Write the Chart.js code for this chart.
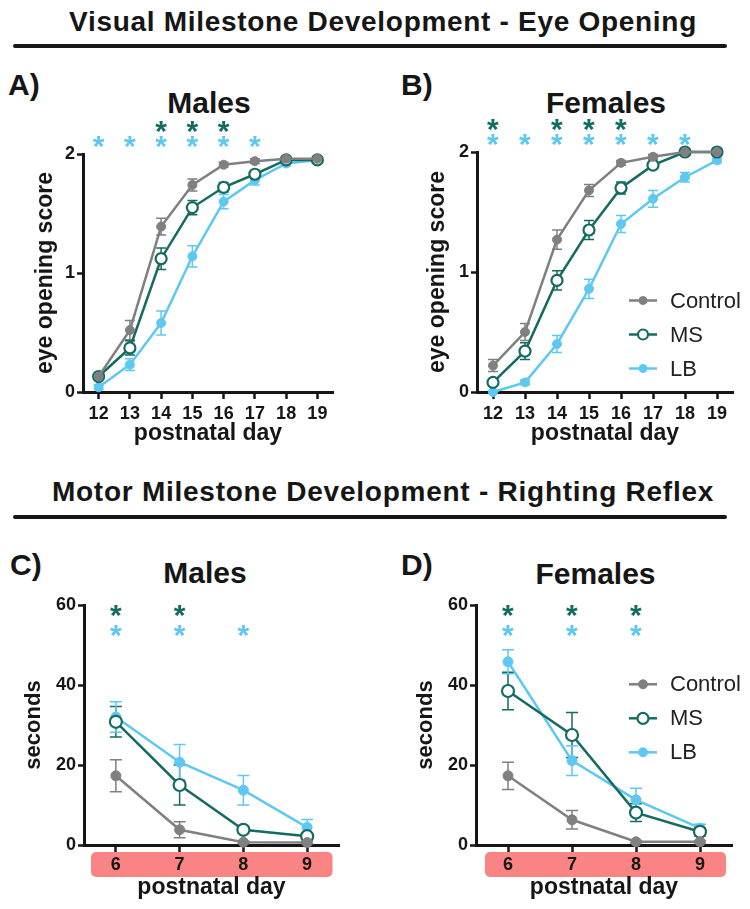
<!DOCTYPE html>
<html><head><meta charset="utf-8">
<script src="https://cdn.jsdelivr.net/npm/chart.js@4.4.0/dist/chart.umd.min.js"></script>
<style>
html,body{margin:0;padding:0;background:#fff;}
#page{position:relative;width:750px;height:909px;overflow:hidden;font-family:"Liberation Sans",Arial,Helvetica,sans-serif;color:#161616;}
.t{position:absolute;white-space:nowrap;line-height:1;font-weight:bold;}
.c{transform:translateX(-50%);}
.rule{position:absolute;height:4px;background:#161616;border-radius:2px;}
canvas{position:absolute;}
</style></head><body>
<div id="page">
  <div class="t c" style="left:383px;top:8px;font-size:28px;letter-spacing:0.7px;">Visual Milestone Development - Eye Opening</div>
  <div class="rule" style="left:13px;top:43.7px;width:714px;"></div>
  <div class="t" style="left:8px;top:69.6px;font-size:30px;">A)</div>
  <div class="t" style="left:401px;top:69.6px;font-size:30px;">B)</div>
  <div class="t c" style="left:209px;top:87.9px;font-size:30px;">Males</div>
  <div class="t c" style="left:606px;top:87.9px;font-size:30px;">Females</div>

  <div class="t c" style="left:383px;top:478px;font-size:28px;letter-spacing:0.75px;">Motor Milestone Development - Righting Reflex</div>
  <div class="rule" style="left:13px;top:514.5px;width:714px;"></div>
  <div class="t" style="left:10px;top:549.6px;font-size:30px;">C)</div>
  <div class="t" style="left:401px;top:549.6px;font-size:30px;">D)</div>
  <div class="t c" style="left:205px;top:557.9px;font-size:30px;">Males</div>
  <div class="t c" style="left:595.5px;top:558.6px;font-size:30px;">Females</div>

  <canvas id="cA"></canvas>
  <canvas id="cB"></canvas>
  <canvas id="cC"></canvas>
  <canvas id="cD"></canvas>
</div>
<script>
// ---------------- DATA ----------------
const daysEye = ['12','13','14','15','16','17','18','19'];
const daysRight = ['6','7','8','9'];

// Panel A - males, eye opening score
const eyeMaleControl    = [0.13,0.52,1.39,1.74,1.91,1.94,1.96,1.96];
const eyeMaleControlErr = [0.02,0.08,0.07,0.05,0.02,0.02,0.01,0.01];
const eyeMaleMS         = [0.13,0.37,1.12,1.55,1.72,1.83,1.95,1.95];
const eyeMaleMSErr      = [0.02,0.06,0.09,0.06,0.04,0.03,0.02,0.02];
const eyeMaleLB         = [0.04,0.23,0.58,1.14,1.60,1.78,1.92,1.95];
const eyeMaleLBErr      = [0.02,0.05,0.10,0.09,0.06,0.04,0.02,0.01];
const eyeMaleSigMS      = ['14','15','16'];
const eyeMaleSigLB      = ['12','13','14','15','16','17'];

// Panel B - females, eye opening score
const eyeFemaleControl    = [0.22,0.50,1.27,1.68,1.91,1.96,2.00,2.00];
const eyeFemaleControlErr = [0.05,0.07,0.08,0.05,0.02,0.02,0,0];
const eyeFemaleMS         = [0.08,0.34,0.93,1.35,1.70,1.89,2.00,2.00];
const eyeFemaleMSErr      = [0.03,0.07,0.08,0.08,0.05,0.03,0,0];
const eyeFemaleLB         = [0.00,0.08,0.40,0.86,1.40,1.61,1.79,1.93];
const eyeFemaleLBErr      = [0,0.02,0.07,0.08,0.07,0.07,0.04,0.02];
const eyeFemaleSigMS      = ['12','14','15','16'];
const eyeFemaleSigLB      = ['12','13','14','15','16','17','18'];

// Panel C - males, righting reflex (seconds)
const rightMaleControl    = [17.3,3.8,0.7,0.6];
const rightMaleControlErr = [4.0,2.0,0.3,0.3];
const rightMaleMS         = [30.8,15.0,3.8,2.2];
const rightMaleMSErr      = [3.8,5.0,0.8,0.8];
const rightMaleLB         = [32.0,20.7,13.7,4.4];
const rightMaleLBErr      = [3.8,4.4,3.7,2.0];
const rightMaleSigMS      = ['6','7'];
const rightMaleSigLB      = ['6','7','8'];

// Panel D - females, righting reflex (seconds)
const rightFemaleControl    = [17.3,6.3,0.8,0.8];
const rightFemaleControlErr = [3.4,2.3,0.3,0.3];
const rightFemaleMS         = [38.5,27.5,8.1,3.3];
const rightFemaleMSErr      = [4.7,5.6,2.2,1.0];
const rightFemaleLB         = [45.8,21.1,11.3,4.2];
const rightFemaleLBErr      = [3.0,3.7,2.9,1.0];
const rightFemaleSigMS      = ['6','7','8'];
const rightFemaleSigLB      = ['6','7','8'];

// ---------------- STYLE ----------------
const FONT = '"Liberation Sans", Arial, Helvetica, sans-serif';
const INK = '#161616';
const C_CTRL = '#808080';
const C_MS = '#166b61';
const C_LB = '#5fc8f0';
Chart.defaults.font.family = FONT;

const extrasPlugin = {
  id: 'extras',
  beforeDraw(chart, args, o) {
    if (!o.band) return;
    const ca = chart.chartArea, ctx = chart.ctx;
    const x0 = ca.left + o.band.dl, x1 = ca.right - o.band.dr;
    const y0 = ca.bottom + o.band.dt, y1 = ca.bottom + o.band.db;
    ctx.save();
    ctx.fillStyle = o.band.color;
    ctx.beginPath();
    ctx.roundRect(x0, y0, x1 - x0, y1 - y0, 5);
    ctx.fill();
    ctx.restore();
  },
  beforeDatasetsDraw(chart, args, o) {
    const ctx = chart.ctx, xs = chart.scales.x, ys = chart.scales.y;
    ctx.save();
    chart.data.datasets.forEach((ds, i) => {
      const err = o.errors[i];
      if (!err) return;
      ctx.strokeStyle = ds.borderColor;
      ctx.lineWidth = o.errWidth;
      ds.data.forEach((v, j) => {
        const e = err[j];
        if (!e) return;
        const x = xs.getPixelForValue(j);
        const yt = ys.getPixelForValue(v + e), yb = ys.getPixelForValue(v - e);
        ctx.beginPath();
        ctx.moveTo(x, yt); ctx.lineTo(x, yb);
        ctx.moveTo(x - o.cap, yt); ctx.lineTo(x + o.cap, yt);
        ctx.moveTo(x - o.cap, yb); ctx.lineTo(x + o.cap, yb);
        ctx.stroke();
      });
    });
    ctx.restore();
  },
  afterDatasetsDraw(chart, args, o) {
    const ctx = chart.ctx, xs = chart.scales.x, ca = chart.chartArea;
    const labels = chart.data.labels;
    ctx.save();
    ctx.font = 'bold ' + o.starSize + 'px ' + FONT;
    ctx.textAlign = 'left';
    ctx.textBaseline = 'alphabetic';
    const m = ctx.measureText('*');
    const asc = m.actualBoundingBoxAscent, desc = m.actualBoundingBoxDescent;
    const bl = m.actualBoundingBoxLeft, br = m.actualBoundingBoxRight;
    o.stars.forEach(row => {
      ctx.fillStyle = row.color;
      row.days.forEach(d => {
        const cx = xs.getPixelForValue(labels.indexOf(d));
        const cy = ca.top + row.dy;
        const x = cx - (br - bl) / 2;
        const y = cy + (asc - desc) / 2;
        ctx.fillText('*', x, y);
      });
    });
    if (o.legend) {
      const L = o.legend;
      chart.data.datasets.forEach((ds, i) => {
        const x = ca.left + L.dx, y = ca.top + L.dy + i * L.gap;
        ctx.strokeStyle = ds.borderColor;
        ctx.lineWidth = 2.5;
        ctx.beginPath(); ctx.moveTo(x, y); ctx.lineTo(x + L.len, y); ctx.stroke();
        ctx.beginPath();
        ctx.arc(x + L.len / 2, y, ds.pointRadius - 0.5, 0, Math.PI * 2);
        ctx.fillStyle = ds.pointBackgroundColor;
        ctx.fill();
        ctx.lineWidth = ds.pointBorderWidth;
        ctx.strokeStyle = ds.pointBorderColor;
        ctx.stroke();
        ctx.fillStyle = '#222';
        ctx.font = '22px ' + FONT;
        ctx.textBaseline = 'middle';
        ctx.fillText(ds.label, x + L.len + 13, y + 1);
      });
    }
    ctx.restore();
  }
};

function mkDatasets(ctrl, ms, lb, big) {
  const r = big ? 5 : 4.5, rm = big ? 6 : 5.5;
  return [
    {label:'Control', data:ctrl, borderColor:C_CTRL, backgroundColor:C_CTRL, pointBackgroundColor:C_CTRL,
     pointBorderColor:C_CTRL, pointRadius:r, pointBorderWidth:1, borderWidth:2.5, tension:0, clip:false},
    {label:'MS', data:ms, borderColor:C_MS, backgroundColor:C_MS, pointBackgroundColor:'#ffffff',
     pointBorderColor:C_MS, pointRadius:rm, pointBorderWidth:2.2, borderWidth:2.5, tension:0, clip:false},
    {label:'LB', data:lb, borderColor:C_LB, backgroundColor:C_LB, pointBackgroundColor:C_LB,
     pointBorderColor:C_LB, pointRadius:r, pointBorderWidth:1, borderWidth:2.5, tension:0, clip:false}
  ];
}

function buildPanel(p) {
  const cv = document.getElementById(p.id);
  const width = p.width;
  const height = (p.area.b - p.top) + p.xH;
  cv.width = width; cv.height = height;
  cv.style.left = p.left + 'px'; cv.style.top = p.top + 'px';
  cv.style.width = width + 'px'; cv.style.height = height + 'px';
  const yW = p.area.l - p.left;
  const padTop = p.area.t - p.top;
  const padRight = p.left + width - p.area.r;
  new Chart(cv, {
    type: 'line',
    data: { labels: p.labels, datasets: p.datasets },
    plugins: [extrasPlugin],
    options: {
      responsive: false, animation: false, devicePixelRatio: 1,
      layout: { padding: { left: 0, top: padTop, right: padRight, bottom: 0 } },
      plugins: {
        legend: { display: false }, tooltip: { enabled: false }, title: { display: false },
        extras: p.extras
      },
      scales: {
        x: {
          type: 'category', offset: true,
          grid: { display: true, drawOnChartArea: false, drawTicks: true, tickLength: 7, tickWidth: 2.5, tickColor: INK, offset: false },
          border: { display: true, color: INK, width: 3 },
          ticks: { color: INK, font: { family: FONT, size: 18, weight: 'bold' }, padding: p.xTickPad, maxRotation: 0, autoSkip: false },
          title: { display: true, text: 'postnatal day', color: INK, font: { family: FONT, size: 23, weight: 'bold' }, padding: 0 },
          afterFit: s => { s.height = p.xH; }
        },
        y: {
          min: 0, max: p.yMax,
          ticks: { stepSize: p.yStep, color: INK, font: { family: FONT, size: 18, weight: 'bold' }, padding: 2 },
          grid: { display: true, drawOnChartArea: false, drawTicks: true, tickLength: 6, tickWidth: 2.5, tickColor: INK },
          border: { display: true, color: INK, width: 3 },
          title: { display: true, text: p.yTitle, color: INK, font: { family: FONT, size: p.yTitleSize, weight: 'bold' }, padding: { top: p.yTitlePad, bottom: 0 } },
          afterFit: s => { s.width = yW; }
        }
      }
    }
  });
}

buildPanel({
  id: 'cA', left: 0, top: 80, width: 360, xH: 55,
  area: { l: 83, t: 154, r: 333, b: 392 },
  labels: daysEye, yMax: 2, yStep: 1, yTitle: 'eye opening score', yTitleSize: 23, yTitlePad: 32, xTickPad: 4,
  datasets: mkDatasets(eyeMaleControl, eyeMaleMS, eyeMaleLB, false),
  extras: {
    errors: [eyeMaleControlErr, eyeMaleMSErr, eyeMaleLBErr], errWidth: 1.5, cap: 5, starSize: 30,
    stars: [ { days: eyeMaleSigMS, color: C_MS, dy: -27 }, { days: eyeMaleSigLB, color: C_LB, dy: -12 } ]
  }
});

buildPanel({
  id: 'cB', left: 380, top: 80, width: 370, xH: 55,
  area: { l: 477, t: 152, r: 733, b: 392 },
  labels: daysEye, yMax: 2, yStep: 1, yTitle: 'eye opening score', yTitleSize: 23, yTitlePad: 44, xTickPad: 4,
  datasets: mkDatasets(eyeFemaleControl, eyeFemaleMS, eyeFemaleLB, false),
  extras: {
    errors: [eyeFemaleControlErr, eyeFemaleMSErr, eyeFemaleLBErr], errWidth: 1.5, cap: 5, starSize: 30,
    stars: [ { days: eyeFemaleSigMS, color: C_MS, dy: -27 }, { days: eyeFemaleSigLB, color: C_LB, dy: -12 } ],
    legend: { dx: 152, dy: 148.5, gap: 34, len: 28 }
  }
});

buildPanel({
  id: 'cC', left: 0, top: 540, width: 370, xH: 56,
  area: { l: 84, t: 605, r: 339, b: 845 },
  labels: daysRight, yMax: 60, yStep: 20, yTitle: 'seconds', yTitleSize: 22, yTitlePad: 21, xTickPad: 2,
  datasets: mkDatasets(rightMaleControl, rightMaleMS, rightMaleLB, true),
  extras: {
    errors: [rightMaleControlErr, rightMaleMSErr, rightMaleLBErr], errWidth: 1.5, cap: 6, starSize: 30,
    stars: [ { days: rightMaleSigMS, color: C_MS, dy: 6 }, { days: rightMaleSigLB, color: C_LB, dy: 26 } ],
    band: { dl: 7, dr: 6.5, dt: 7, db: 32, color: '#f98483' }
  }
});

buildPanel({
  id: 'cD', left: 380, top: 540, width: 370, xH: 56,
  area: { l: 476, t: 605, r: 732, b: 845 },
  labels: daysRight, yMax: 60, yStep: 20, yTitle: 'seconds', yTitleSize: 22, yTitlePad: 33, xTickPad: 2,
  datasets: mkDatasets(rightFemaleControl, rightFemaleMS, rightFemaleLB, true),
  extras: {
    errors: [rightFemaleControlErr, rightFemaleMSErr, rightFemaleLBErr], errWidth: 1.5, cap: 6, starSize: 30,
    stars: [ { days: rightFemaleSigMS, color: C_MS, dy: 6 }, { days: rightFemaleSigLB, color: C_LB, dy: 26 } ],
    band: { dl: 9, dr: 6, dt: 7, db: 32, color: '#f98483' },
    legend: { dx: 153, dy: 79.3, gap: 34, len: 28 }
  }
});
</script>
</body></html>
